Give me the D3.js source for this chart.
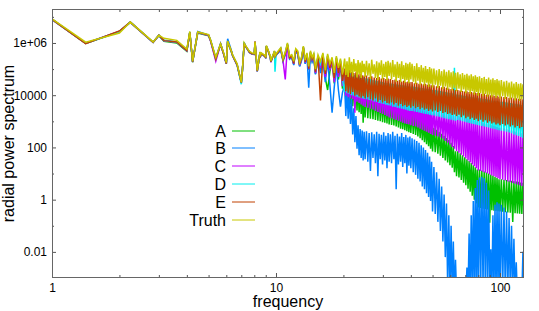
<!DOCTYPE html>
<html>
<head>
<meta charset="utf-8">
<script src="https://cdn.jsdelivr.net/npm/d3@7"></script>
<style>
  body { margin: 0; background: #fff; }
  svg { display: block; }
  text { font-family: "Liberation Sans", Arial, sans-serif; fill: #000; }
</style>
</head>
<body>
<div id="chart"></div>
<script>
// radial frequencies: exact sqrt(i^2+j^2) up to 10, then sampled bins
var freqLow = [1, 1.414, 2, 2.236, 2.828, 3, 3.162, 3.606, 4, 4.123, 4.243, 4.472, 5, 5.099, 5.385, 5.657, 5.831, 6, 6.083, 6.325, 6.403, 6.708, 7, 7.071, 7.211, 7.280, 7.616, 7.810, 8, 8.062, 8.246, 8.485, 8.544, 8.602, 8.944, 9, 9.055, 9.220, 9.434, 9.487, 9.849, 9.899, 10];
var freqMid = [10.25, 10.5, 10.75, 11, 11.25, 11.5, 11.75, 12, 12.25, 12.5, 12.75, 13, 13.25, 13.5, 13.75, 14, 14.25, 14.5, 14.75, 15,
    15.4, 15.8, 16.2, 16.6, 17, 17.4, 17.8, 18.2, 18.6, 19, 19.4, 19.8];
var freqDense = [20.25, 20.5, 20.75, 21, 21.25, 21.5, 21.75, 22, 22.25, 22.5, 22.75, 23, 23.25, 23.5, 23.75, 24, 24.25, 24.5, 24.75, 25,
    25.35, 25.7, 26.05, 26.4, 26.75, 27.1, 27.45, 27.8, 28.15, 28.5, 28.85, 29.2, 29.55, 29.9, 30.25, 30.6, 30.95, 31.3, 31.65, 32,
    32.4, 32.8, 33.2, 33.6, 34, 34.4, 34.8, 35.2, 35.6, 36, 36.4, 36.8, 37.2, 37.6, 38, 38.4, 38.8, 39.2, 39.6, 40,
    40.5, 41, 41.5, 42, 42.5, 43, 43.5, 44, 44.5, 45, 45.5, 46, 46.5, 47, 47.5, 48, 48.5, 49, 49.5, 50,
    50.7, 51.4, 52.1, 52.8, 53.5, 54.2, 54.9, 55.6, 56.3, 57, 57.7, 58.4, 59.1, 59.8, 60.5, 61.2, 61.9, 62.6, 63.3, 64,
    64.8, 65.6, 66.4, 67.2, 68, 68.8, 69.6, 70.4, 71.2, 72, 72.8, 73.6, 74.4, 75.2, 76, 76.8, 77.6, 78.4, 79.2, 80,
    81, 82, 83, 84, 85, 86, 87, 88, 89, 90, 91, 92, 93, 94, 95, 96, 97, 98, 99, 100,
    101.4, 102.8, 104.2, 105.6, 107, 108.4, 109.8, 111.2, 112.6, 114, 115.4, 116.8, 118.2, 119.6, 121, 122.4, 123.8, 125.2, 126.6, 128];
var frequency = freqLow.concat(freqMid, freqDense);

// log10(power) per frequency
var log10A = [6.90,5.98,6.43,6.79,6.02,6.28,6.06,6.00,5.68,6.40, 5.26,6.38,6.28,6.10,5.40,5.94,5.60,5.20,6.04,5.65, 5.52,5.15,4.48,4.88,5.97,5.90,5.64,5.58,5.57,6.02, 4.92,5.63,5.50,5.58,5.48,5.42,5.86,5.70,5.45,5.28, 5.66,5.46,5.54,
    5.64,5.76,5.34,5.58,5.92,5.40,5.46,5.18,5.70,5.60, 5.12,5.36,5.80,5.22,5.52,4.98,5.60,5.30,5.48,4.82, 5.42,5.00,5.45,4.65,4.20,4.90,5.28,4.45,5.30,4.60, 5.18,4.25,
    4.70,3.78,4.65,3.72,4.60,3.65,4.55,3.58,4.50,3.50, 4.45,3.42,4.40,3.35,4.35,3.28,4.30,2.95,4.22,3.15,
    4.22,3.12,4.18,3.10,4.14,3.08,4.10,3.05,4.05,3.02, 4.00,3.00,3.96,2.97,3.92,2.95,3.88,2.92,3.80,2.88,
    3.80,2.86,3.76,2.84,3.72,2.80,3.68,2.76,3.64,2.72, 3.60,2.70,3.56,2.66,3.52,2.62,3.46,2.58,3.40,2.55,
    3.40,2.52,3.34,2.48,3.28,2.42,3.22,2.35,3.15,2.28, 3.08,2.20,3.00,2.12,2.92,2.05,2.84,1.95,2.75,1.85,
    2.75,1.82,2.68,1.76,2.60,1.68,2.52,1.60,2.45,1.50, 2.36,1.42,2.28,1.32,2.18,1.22,2.05,1.05,1.85,0.90,
    1.85,0.85,1.78,0.75,1.70,0.65,1.62,0.55,1.55,0.42, 1.48,0.30,1.40,0.15,1.32,0.00,1.24,-0.15,1.15,-0.30,
    1.15,-0.32,1.12,-0.35,1.08,-0.36,1.04,-0.38,1.00,-0.88, 0.96,-0.40,0.92,-0.42,0.88,-0.43,0.84,-0.44,0.78,-0.45,
    0.78,-0.46,0.76,-0.48,0.75,-0.49,0.73,-0.50,0.72,-0.85, 0.70,-0.52,0.69,-0.53,0.68,-0.54,0.66,-0.55,0.65,-0.55];
var log10B = [6.91,5.99,6.44,6.80,6.03,6.30,6.10,6.04,5.72,6.42, 5.28,6.44,6.30,6.12,5.42,5.98,5.62,5.22,6.16,5.70, 5.54,5.18,4.48,4.92,6.02,5.92,5.66,5.60,5.58,6.05, 4.93,5.65,5.52,5.60,5.50,5.43,5.88,5.72,5.47,5.30, 5.68,5.48,5.55,
    5.62,5.74,5.30,5.55,5.90,5.38,5.45,5.15,5.68,5.58, 5.10,5.32,5.78,5.20,5.50,4.29,5.58,5.28,5.45,4.80, 5.40,4.85,5.35,4.50,5.30,4.40,3.33,4.30,5.10,4.20, 3.56,4.10,
    4.40,3.20,4.25,3.10,4.05,2.90,3.85,2.50,3.50,2.20, 3.20,1.95,2.85,1.70,2.70,1.60,2.65,1.50,2.60,1.55,
    2.62,1.45,2.55,1.10,2.58,1.60,2.50,1.40,2.60,0.90, 2.52,1.55,2.48,1.35,2.58,1.50,2.45,1.20,2.55,1.45,
    2.50,1.40,2.60,1.55,2.45,0.40,2.52,1.35,2.42,1.45, 2.55,1.25,2.40,1.40,2.48,1.00,2.38,1.30,2.42,1.20,
    2.35,1.05,2.30,0.95,2.25,0.80,2.18,0.70,2.08,0.50, 2.00,0.40,1.90,0.25,1.80,0.10,1.65,-0.05,1.45,-0.45,
    1.25,-0.55,1.05,-0.85,0.80,-1.20,0.50,-1.60,0.20,-2.20, -0.15,-3.40,-0.60,-3.60,-1.00,-3.60,-1.60,-3.70,-2.30,-3.60,
    -3.40,-3.80,-3.50,-3.90,-3.45,-3.85,-3.40,-3.70,-2.60,-3.60, -1.30,-3.60,-0.60,-3.50,-0.05,-3.60,0.45,-3.50,0.75,-3.60,
    0.85,-3.50,0.88,-3.40,0.82,-3.50,0.65,-3.40,0.35,-3.60, -1.90,-3.60,-0.60,-3.50,-0.20,-3.60,-0.10,-3.50,-0.15,-3.60,
    -0.20,-3.50,-0.30,-3.60,-0.45,-3.50,-0.70,-3.60,-1.00,-3.50, -1.50,-3.60,-2.40,-3.70,-3.40,-3.80,-3.30,-3.70,-2.00,-3.60];
var log10C = [6.90,5.98,6.45,6.79,6.02,6.29,6.08,6.03,5.70,6.41, 5.27,6.40,6.29,6.08,5.30,5.95,5.58,5.20,6.05,5.66, 5.50,5.14,4.47,4.87,5.98,5.90,5.63,5.58,5.56,6.06, 4.90,5.62,5.50,5.57,5.48,5.40,5.86,5.70,5.44,5.26, 5.66,5.46,5.52,
    5.66,5.78,5.32,4.60,5.94,5.42,5.48,5.20,5.72,5.62, 5.15,5.38,5.82,5.25,5.55,5.00,5.62,5.35,5.50,4.85, 5.45,5.05,5.50,4.70,5.45,4.95,5.32,4.50,5.38,4.70, 5.25,4.35,
    4.80,3.98,4.75,3.92,4.70,3.88,4.65,3.85,4.60,3.33, 4.55,3.75,4.50,3.70,4.46,3.65,4.42,3.60,4.38,3.55,
    4.35,3.52,4.32,3.48,4.30,3.45,4.27,3.40,4.25,3.36, 4.22,3.32,4.20,3.28,4.17,3.24,4.14,3.20,4.12,3.15,
    4.10,3.12,4.08,3.08,4.05,3.05,4.02,3.02,4.00,2.98, 3.98,2.95,3.95,2.92,3.93,2.90,3.90,2.88,3.88,2.85,
    3.88,2.82,3.84,2.80,3.80,2.76,3.75,2.72,3.70,2.68, 3.66,2.64,3.62,2.60,3.58,2.56,3.52,2.52,3.45,2.48,
    3.45,2.45,3.43,2.42,3.40,2.38,3.38,2.33,3.36,2.25, 3.33,2.18,3.30,2.10,3.28,2.02,3.25,1.95,3.20,1.85,
    3.20,1.80,3.18,1.72,3.15,1.65,3.13,1.58,3.10,1.50, 3.08,1.42,3.06,1.35,3.04,1.28,3.01,1.20,2.98,1.12,
    2.98,1.10,2.96,1.06,2.93,1.03,2.91,1.00,2.89,0.96, 2.86,0.93,2.84,0.90,2.81,0.86,2.78,0.82,2.75,0.78,
    2.75,0.76,2.73,0.73,2.70,0.70,2.68,0.67,2.65,0.64, 2.62,0.61,2.60,0.58,2.57,0.55,2.54,0.52,2.50,0.48];
var log10D = [6.91,5.98,6.44,6.80,6.03,6.30,6.09,6.04,5.72,6.43, 5.28,6.41,6.30,6.10,5.40,5.96,5.60,5.21,6.06,5.67, 5.51,5.15,4.42,4.86,5.99,5.91,5.64,5.59,5.57,6.03, 4.91,5.63,5.51,5.58,5.49,5.41,5.87,5.71,5.45,5.27, 5.67,4.90,5.50,
    5.68,5.80,5.36,5.62,5.97,5.46,5.52,5.25,5.75,5.66, 5.20,5.42,5.85,5.30,5.58,5.05,5.66,5.40,5.55,4.95, 5.50,5.20,5.58,4.88,5.52,5.10,5.40,4.75,5.45,4.95, 5.35,4.62,
    4.12,4.98,4.08,4.92,4.05,4.88,4.00,4.82,3.98,4.78, 3.95,4.75,3.92,4.72,3.90,4.70,3.88,4.68,3.86,4.65,
    3.85,4.64,3.82,4.62,3.80,4.58,3.76,4.56,3.74,4.54, 3.70,4.52,3.68,4.50,3.66,4.48,3.64,4.47,3.62,4.45,
    3.60,4.45,3.56,4.43,3.55,4.42,3.52,4.40,3.50,4.39, 3.48,4.38,3.46,4.37,3.44,4.36,3.42,4.34,3.40,4.33,
    3.40,4.33,3.38,4.31,3.36,4.30,3.34,4.28,3.32,4.27, 3.30,4.26,3.28,4.25,3.27,4.23,3.25,4.22,3.23,4.20,
    3.22,4.20,3.20,4.18,3.18,4.16,3.15,4.14,3.12,4.12, 3.10,4.10,3.08,4.08,3.06,4.07,3.04,5.05,3.02,4.03,
    3.05,4.02,3.03,4.00,3.00,3.98,2.98,3.97,2.96,3.95, 2.94,3.94,2.92,3.92,2.90,3.91,2.88,3.90,2.86,3.88,
    2.84,3.88,2.82,3.86,2.80,3.85,2.78,3.83,2.76,3.82, 2.74,3.80,2.72,3.79,2.70,3.78,2.68,3.77,2.66,3.75,
    2.64,3.75,2.62,3.73,2.60,3.72,2.57,3.70,2.54,3.68, 2.50,3.67,2.47,3.65,2.44,3.64,2.40,3.62,2.36,3.60];
var log10E = [6.91,5.97,6.46,6.80,6.03,6.30,6.09,6.04,5.71,6.42, 5.28,6.41,6.30,6.10,5.38,5.96,5.60,5.21,6.06,5.67, 5.52,5.16,4.48,4.88,5.99,5.91,5.65,5.59,5.58,6.04, 4.92,5.64,5.52,5.59,5.49,5.42,5.87,5.71,5.46,5.28, 5.67,5.47,5.54,
    5.66,5.78,5.35,5.60,5.95,5.44,5.50,5.22,5.74,5.64, 5.18,5.40,5.84,5.28,5.56,5.02,5.64,5.38,5.52,4.90, 5.48,3.80,5.55,4.82,5.50,5.05,5.38,4.65,5.42,4.85, 5.32,4.55,
    5.02,4.15,4.95,4.10,4.98,4.05,4.90,4.12,4.85,3.98, 4.88,4.02,4.80,3.95,4.82,3.90,4.76,3.96,4.75,3.88,
    4.75,3.92,4.70,3.85,4.72,3.80,4.68,3.88,4.66,3.75, 4.70,3.82,4.64,3.72,4.66,3.78,4.62,3.70,4.64,3.68,
    4.62,3.72,4.58,3.65,4.60,3.70,4.55,3.60,4.58,3.66, 4.52,3.58,4.55,3.62,4.50,3.55,4.52,3.60,4.50,3.52,
    4.50,3.58,4.46,3.50,4.48,3.55,4.44,3.46,4.45,3.52, 4.42,3.44,4.44,3.48,4.40,3.40,4.42,3.45,4.38,3.38,
    4.38,3.42,4.34,3.36,4.35,3.40,4.30,3.32,4.32,3.35, 4.28,3.28,4.26,3.30,4.24,3.24,4.25,3.26,4.20,3.20,
    4.20,3.25,4.18,3.16,4.16,3.22,4.14,3.12,4.15,3.18, 4.12,3.08,4.12,3.14,4.10,3.05,4.10,3.10,4.08,3.00,
    4.08,3.06,4.05,2.98,4.06,3.04,4.02,2.95,4.03,3.00, 4.00,2.92,4.00,2.96,3.98,2.88,3.98,2.92,3.95,2.85,
    3.95,2.90,3.93,2.84,3.93,2.88,3.90,2.80,3.91,2.85, 3.88,2.76,3.88,2.82,3.86,2.74,3.86,2.78,3.84,2.70];
var log10Truth = [6.92,6.03,6.38,6.80,6.04,6.30,6.18,6.10,5.77,6.44, 5.30,6.42,6.32,6.13,5.45,5.97,5.64,5.25,6.08,5.68, 5.55,5.20,4.50,4.90,6.00,5.93,5.68,5.62,5.60,6.06, 4.95,5.66,5.55,5.62,5.52,5.45,5.90,5.74,5.49,5.32, 5.70,5.50,5.58,
    5.70,5.82,5.40,5.65,6.00,5.50,5.55,5.30,5.78,5.70, 5.25,5.45,5.88,5.35,5.62,5.10,5.70,5.45,5.60,5.00, 5.55,5.30,5.62,4.95,5.58,5.20,5.45,4.85,5.50,5.05, 5.40,4.80,
    5.40,4.78,5.30,4.70,5.45,4.85,5.28,4.72,5.38,4.90, 5.22,4.68,5.35,4.80,5.25,4.66,5.32,4.88,5.20,4.70,
    5.32,4.75,5.22,4.62,5.36,4.82,5.18,4.66,5.30,4.58, 5.25,4.78,5.34,4.60,5.20,4.70,5.28,4.56,5.32,4.74,
    5.25,4.60,5.35,4.70,5.18,4.52,5.28,4.66,5.20,4.50, 5.30,4.62,5.15,4.48,5.24,4.58,5.20,4.46,5.26,4.60,
    5.20,4.52,5.12,4.42,5.22,4.56,5.08,4.40,5.15,4.50, 5.05,4.36,5.12,4.48,5.00,4.32,5.08,4.44,5.02,4.30,
    5.02,4.40,4.95,4.28,5.00,4.36,4.92,4.24,4.98,4.34, 4.90,4.20,4.95,4.30,4.88,4.18,4.92,4.28,4.86,4.15,
    4.88,4.25,4.80,4.12,4.85,4.22,4.78,4.08,4.82,4.18, 4.75,4.05,4.80,4.15,4.72,4.02,4.76,4.12,4.70,3.98,
    4.72,4.08,4.66,3.96,4.70,4.05,4.62,3.94,4.68,4.02, 4.60,3.92,4.65,4.00,4.58,3.90,4.62,3.98,4.56,3.88,
    4.58,3.96,4.52,3.86,4.55,3.94,4.48,3.84,4.52,3.90, 4.45,3.80,4.50,3.88,4.44,3.78,4.46,3.85,4.42,3.75];

var seriesNames = ["A", "B", "C", "D", "E", "Truth"];
var seriesColors = ["#00c000", "#0080ff", "#c000ff", "#00eeee", "#c04000", "#c8c800"];
var seriesValues = [log10A, log10B, log10C, log10D, log10E, log10Truth];

var xMajorTicks = [1, 10, 100];
var xMinorTicks = [2, 3, 4, 5, 6, 7, 8, 9, 20, 30, 40, 50, 60, 70, 80, 90];
var yMajorTicks = [1e-2, 1, 1e2, 1e4, 1e6];
var yTickLabels = ["0.01", "1", "100", "10000", "1e+06"];
var yMinorTicks = [1e-1, 10, 1e3, 1e5, 1e7];

(function () {
    "use strict";

    var W = 539, H = 311;
    var margin = { top: 9, right: 15, bottom: 33, left: 52 };
    var width = W - margin.left - margin.right;
    var height = H - margin.top - margin.bottom;

    var svg = d3.select("#chart").append("svg")
        .attr("width", W)
        .attr("height", H);

    var g = svg.append("g")
        .attr("transform", "translate(" + margin.left + "," + margin.top + ")");

    var x = d3.scaleLog().domain([1, 128]).range([0, width]);
    var y = d3.scaleLog().domain([1e-3, 2e7]).range([height, 0]);

    g.append("clipPath").attr("id", "plot-clip")
        .append("rect").attr("width", width).attr("height", height);

    // Spectra, drawn in key order so Truth ends on top
    var line = d3.line()
        .x(function (d) { return x(d.f); })
        .y(function (d) { return y(d.p); });

    var lines = g.append("g").attr("clip-path", "url(#plot-clip)");
    seriesValues.forEach(function (vals, k) {
        var pts = vals.map(function (v, i) {
            return { f: frequency[i], p: Math.pow(10, v) };
        });
        lines.append("path")
            .datum(pts)
            .attr("d", line)
            .attr("fill", "none")
            .attr("stroke", seriesColors[k])
            .attr("stroke-width", 1.5);
    });

    // Axes: inward ticks, mirrored on top/right
    function styleAxis(sel) {
        sel.select(".domain").remove();
        sel.selectAll(".tick line").attr("stroke", "#555");
        sel.selectAll(".tick text")
            .attr("fill", "#000")
            .attr("font-size", "12px")
            .attr("font-family", "\"Liberation Sans\", Arial, sans-serif");
    }

    g.append("g").attr("transform", "translate(0," + height + ")")
        .call(d3.axisBottom(x).tickValues(xMajorTicks).tickSize(-5).tickPadding(5)
            .tickFormat(d3.format("d")))
        .call(styleAxis);
    g.append("g").attr("transform", "translate(0," + height + ")")
        .call(d3.axisBottom(x).tickValues(xMinorTicks).tickSize(-3).tickFormat(""))
        .call(styleAxis);
    g.append("g")
        .call(d3.axisTop(x).tickValues(xMajorTicks).tickSize(-5).tickFormat(""))
        .call(styleAxis);
    g.append("g")
        .call(d3.axisTop(x).tickValues(xMinorTicks).tickSize(-3).tickFormat(""))
        .call(styleAxis);

    g.append("g")
        .call(d3.axisLeft(y).tickValues(yMajorTicks).tickSize(-4).tickPadding(5)
            .tickFormat(function (d, i) { return yTickLabels[i]; }))
        .call(styleAxis);
    g.append("g")
        .call(d3.axisLeft(y).tickValues(yMinorTicks).tickSize(-2).tickFormat(""))
        .call(styleAxis);
    g.append("g").attr("transform", "translate(" + width + ",0)")
        .call(d3.axisRight(y).tickValues(yMajorTicks).tickSize(-4).tickFormat(""))
        .call(styleAxis);
    g.append("g").attr("transform", "translate(" + width + ",0)")
        .call(d3.axisRight(y).tickValues(yMinorTicks).tickSize(-2).tickFormat(""))
        .call(styleAxis);

    // Border
    g.append("rect")
        .attr("x", 0.5).attr("y", 0.5)
        .attr("width", width - 1).attr("height", height - 1)
        .attr("fill", "none")
        .attr("stroke", "#666")
        .attr("stroke-width", 1);

    // Axis titles
    svg.append("text")
        .attr("x", margin.left + width / 2)
        .attr("y", 307)
        .attr("text-anchor", "middle")
        .attr("font-size", "16px")
        .text("frequency");

    svg.append("text")
        .attr("transform", "translate(14," + (margin.top + height / 2) + ") rotate(-90)")
        .attr("text-anchor", "middle")
        .attr("font-size", "16px")
        .text("radial power spectrum");

    // Key
    var key = svg.append("g");
    seriesNames.forEach(function (name, k) {
        var ky = Math.round(130.5 + k * 17.9);
        key.append("text")
            .attr("x", 226)
            .attr("y", ky + 5.5)
            .attr("text-anchor", "end")
            .attr("font-size", "16px")
            .text(name);
        key.append("line")
            .attr("x1", 232).attr("x2", 255)
            .attr("y1", ky).attr("y2", ky)
            .attr("stroke", seriesColors[k])
            .attr("stroke-width", 1);
    });
})();
</script>
</body>
</html>
